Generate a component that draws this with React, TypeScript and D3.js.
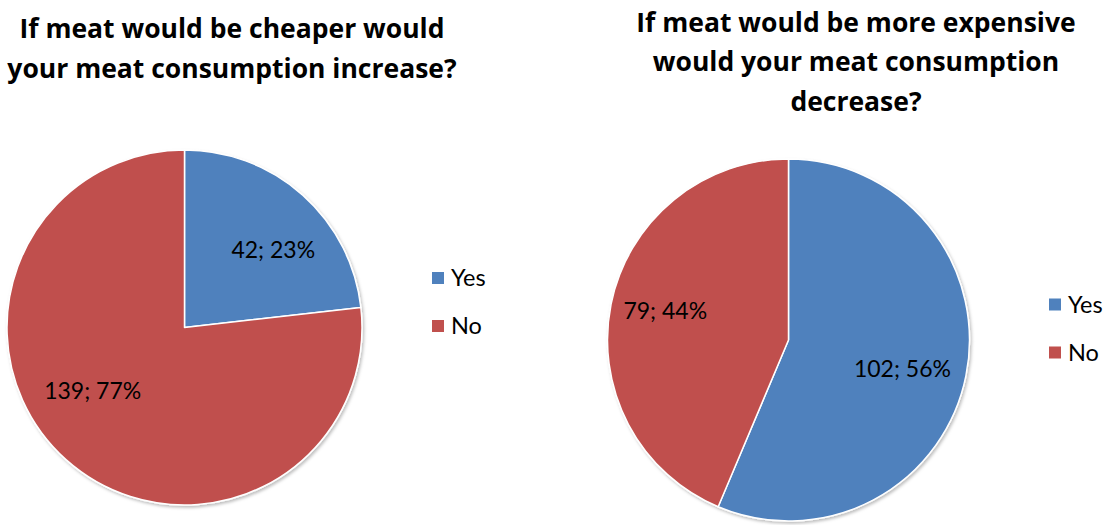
import React from "react";
import * as d3 from "d3";

const categories = ["Yes", "No"];
const cheaperValues = [42, 139];
const cheaperPercents = ["23%", "77%"];
const expensiveValues = [102, 79];
const expensivePercents = ["56%", "44%"];
const cheaperTitle = ["If meat would be cheaper would", "your meat consumption increase?"];
const expensiveTitle = ["If meat would be more expensive", "would your meat consumption", "decrease?"];

const colors = ["#4F81BD", "#C0504D"];
const FONT = "Lato, 'Open Sans', sans-serif";
const TITLE_FONT = "'Open Sans', Lato, sans-serif";

type PieProps = {
  values: number[];
  percents: string[];
  title: string[];
  cx: number;
  cy: number;
  r: number;
  titleX: number;
  titleY: number;
  titleGap: number;
  legendX: number;
  legendY: number;
  labelRadius: number[];
  labelShift: number[];
  id: string;
};

function Pie({ values, percents, title, cx, cy, r, titleX, titleY, titleGap, legendX, legendY, labelRadius, labelShift, id }: PieProps) {
  const pie = d3.pie<number>().sort(null).value((d) => d);
  const arcs = pie(values);
  const arc = d3.arc<d3.PieArcDatum<number>>().innerRadius(0).outerRadius(r);
  const legendScale = d3.scalePoint<string>().domain(categories).range([0, 48]);
  return (
    <g>
      {title.map((t, i) => (
        <text key={i} x={titleX} y={titleY + i * titleGap} textAnchor="middle" fontFamily={TITLE_FONT} fontWeight="bold" fontSize={26.5} fill="#000">
          {t}
        </text>
      ))}
      <g transform={`translate(${cx},${cy})`} filter={`url(#shadow-${id})`}>
        {arcs.map((a, i) => (
          <path key={i} d={arc(a) || ""} fill={colors[i]} stroke="#fff" strokeWidth={1.5} strokeLinejoin="round" />
        ))}
      </g>
      <g transform={`translate(${cx},${cy})`}>
        {arcs.map((a, i) => {
          const shift = (labelShift[i] * Math.PI) / 180;
          const lr = r * labelRadius[i];
          const la = d3.arc<d3.PieArcDatum<number>>().innerRadius(lr).outerRadius(lr);
          const [x, y] = la.centroid({ ...a, startAngle: a.startAngle + shift, endAngle: a.endAngle + shift });
          return (
            <text key={i} x={x} y={y} dy="0.35em" textAnchor="middle" fontFamily={FONT} fontSize={23} fill="#000">
              {`${values[i]}; ${percents[i]}`}
            </text>
          );
        })}
      </g>
      <g transform={`translate(${legendX},${legendY})`}>
        {categories.map((c, i) => (
          <g key={c} transform={`translate(0,${legendScale(c)})`}>
            <rect x={0} y={-6} width={12} height={12} fill={colors[i]} />
            <text x={19} y={0} dy="0.36em" fontFamily={FONT} fontSize={23.5} fill="#000">
              {c}
            </text>
          </g>
        ))}
      </g>
    </g>
  );
}

export default function App() {
  return (
    <svg width={1112} height={525} style={{ position: "absolute", left: 0, top: 0, background: "#fff" }}>
      <defs>
        {["l", "r"].map((id) => (
          <filter key={id} id={`shadow-${id}`} x="-10%" y="-10%" width="120%" height="120%">
            <feDropShadow dx={1.5} dy={2} stdDeviation={1.5} floodColor="#000" floodOpacity={0.25} />
          </filter>
        ))}
      </defs>
      <Pie
        id="l"
        values={cheaperValues}
        percents={cheaperPercents}
        title={cheaperTitle}
        cx={184.5}
        cy={327.5}
        r={177.5}
        titleX={232}
        titleY={38}
        titleGap={40}
        legendX={432}
        legendY={278}
        labelRadius={[0.665, 0.63]}
        labelShift={[7, 13.4]}
      />
      <Pie
        id="r"
        values={expensiveValues}
        percents={expensivePercents}
        title={expensiveTitle}
        cx={788.5}
        cy={340}
        r={181}
        titleX={856}
        titleY={32}
        titleGap={39.3}
        legendX={1049}
        legendY={304.5}
        labelRadius={[0.65, 0.7]}
        labelShift={[3, 2]}
      />
    </svg>
  );
}
